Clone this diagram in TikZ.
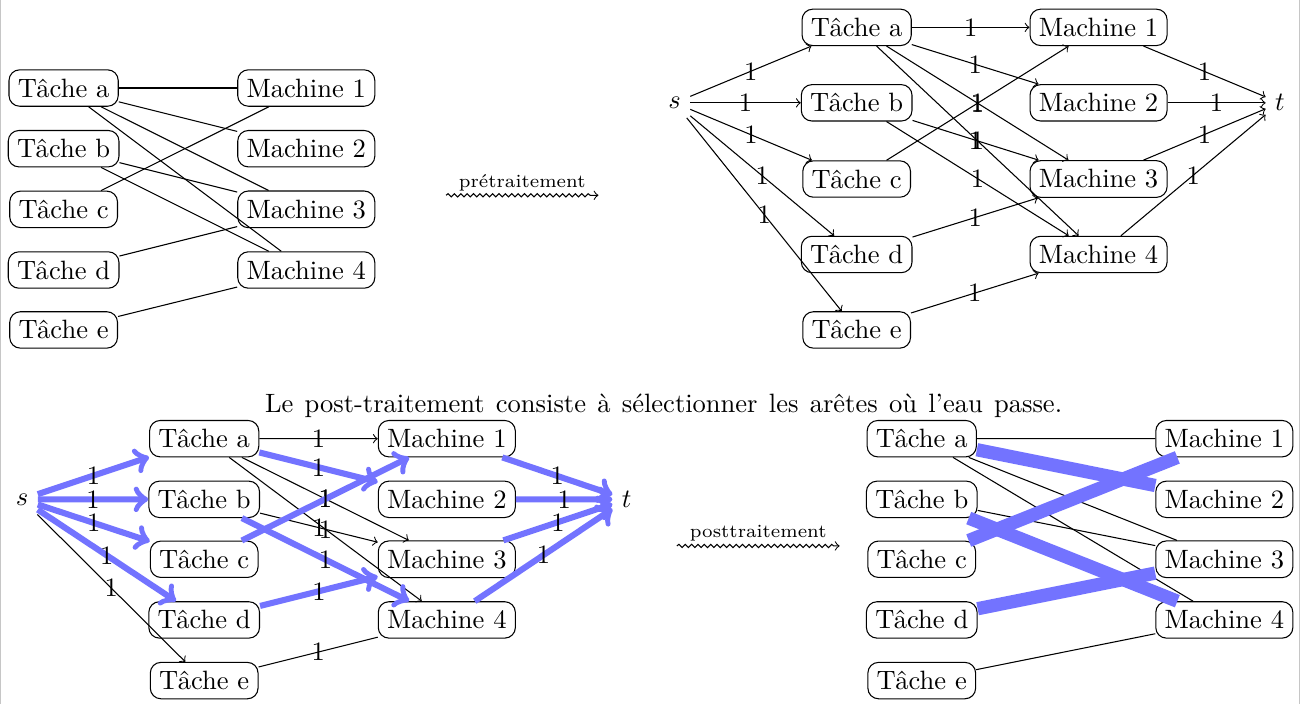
\documentclass[tikz,border=0pt]{standalone}
\usepackage{tikz}
\usetikzlibrary{decorations.pathmorphing}

\begin{document}
\begin{tikzpicture}[scale=0.98,
    box/.style={draw, rounded corners},
    flow/.style={->, draw=blue!55, line width=2.3pt},
    chosen/.style={draw=blue!55, line width=5pt},
    wave/.style={->, decorate, decoration={snake, amplitude=0.6pt, segment length=2.4pt, post length=2pt}}]
    \useasboundingbox (0,0) rectangle (17.6,-9.51);
    \draw[gray!45] (0.01,0) -- (0.01,-9.51);
    \draw[gray!45] (17.56,0) -- (17.56,-9.51);

    % bipartite graph
    \node[box] (Aa) at (0.86,-1.19) {Tâche a};
    \node[box] (Ab) at (0.86,-2.01) {Tâche b};
    \node[box] (Ac) at (0.86,-2.83) {Tâche c};
    \node[box] (Ad) at (0.86,-3.65) {Tâche d};
    \node[box] (Ae) at (0.86,-4.46) {Tâche e};
    \node[box] (A1) at (4.14,-1.19) {Machine 1};
    \node[box] (A2) at (4.14,-2.01) {Machine 2};
    \node[box] (A3) at (4.14,-2.83) {Machine 3};
    \node[box] (A4) at (4.14,-3.65) {Machine 4};

    \draw (Aa) -- (A1);
    \draw (Aa) -- (A2);
    \draw (Aa) -- (A3);
    \draw (Aa) -- (A4);
    \draw (Ab) -- (A3);
    \draw (Ab) -- (A4);
    \draw (Ac) -- (A1);
    \draw (Ad) -- (A3);
    \draw (Ae) -- (A4);

    \coordinate (pre1) at (6.03,-2.64);
    \coordinate (pre2) at (8.09,-2.64);
    \draw[wave] (pre1) -- node[above, font=\scriptsize, inner sep=1.5pt] {prétraitement} (pre2);

    % flow network
    \node (Bs) at (9.12,-1.39) {$s$};
    \node[box] (Ba) at (11.58,-0.37) {Tâche a};
    \node[box] (Bb) at (11.58,-1.39) {Tâche b};
    \node[box] (Bc) at (11.58,-2.42) {Tâche c};
    \node[box] (Bd) at (11.58,-3.44) {Tâche d};
    \node[box] (Be) at (11.58,-4.46) {Tâche e};
    \node[box] (B1) at (14.85,-0.37) {Machine 1};
    \node[box] (B2) at (14.85,-1.39) {Machine 2};
    \node[box] (B3) at (14.85,-2.42) {Machine 3};
    \node[box] (B4) at (14.85,-3.44) {Machine 4};
    \node (Bt) at (17.30,-1.39) {$t$};

    \draw[->] (Bs) -- node {1} (Ba);
    \draw[->] (Bs) -- node {1} (Bb);
    \draw[->] (Bs) -- node {1} (Bc);
    \draw[->] (Bs) -- node {1} (Bd);
    \draw[->] (Bs) -- node {1} (Be);
    \draw[->] (Ba) -- node {1} (B1);
    \draw[->] (Ba) -- node {1} (B2);
    \draw[->] (Ba) -- node {1} (B3);
    \draw[->] (Ba) -- node {1} (B4);
    \draw[->] (Bb) -- node {1} (B3);
    \draw[->] (Bb) -- node {1} (B4);
    \draw[->] (Bc) -- node {1} (B1);
    \draw[->] (Bd) -- node {1} (B3);
    \draw[->] (Be) -- node {1} (B4);
    \draw[->] (B1) -- node {1} (Bt);
    \draw[->] (B2) -- node {1} (Bt);
    \draw[->] (B3) -- node {1} (Bt);
    \draw[->] (B4) -- node {1} (Bt);

    \node (caption) at (8.97,-5.49) {\makebox[10.56cm][s]{Le post-traitement consiste à sélectionner les arêtes où l'eau passe.}};

    % maximum flow
    \node (Cs) at (0.30,-6.75) {$s$};
    \node[box] (Ca) at (2.76,-5.93) {Tâche a};
    \node[box] (Cb) at (2.76,-6.75) {Tâche b};
    \node[box] (Cc) at (2.76,-7.56) {Tâche c};
    \node[box] (Cd) at (2.76,-8.38) {Tâche d};
    \node[box] (Ce) at (2.76,-9.20) {Tâche e};
    \node[box] (C1) at (6.04,-5.93) {Machine 1};
    \node[box] (C2) at (6.04,-6.75) {Machine 2};
    \node[box] (C3) at (6.04,-7.56) {Machine 3};
    \node[box] (C4) at (6.04,-8.38) {Machine 4};
    \node (Ct) at (8.47,-6.75) {$t$};

    \draw[->] (Cs) -- node {1} (Ce);
    \draw[->] (Ca) -- node {1} (C1);
    \draw[->] (Ca) -- node {1} (C3);
    \draw[->] (Ca) -- node {1} (C4);
    \draw[->] (Cb) -- node {1} (C3);
    \draw (Ce) -- node {1} (C4);
    \draw[flow] (Cs) -- node {1} (Ca);
    \draw[flow] (Cs) -- node {1} (Cb);
    \draw[flow] (Cs) -- node {1} (Cc);
    \draw[flow] (Cs) -- node {1} (Cd);
    \draw[flow] (Ca) -- node {1} (C2);
    \draw[flow] (Cb) -- node {1} (C4);
    \draw[flow] (Cc) -- node {1} (C1);
    \draw[flow] (Cd) -- node {1} (C3);
    \draw[flow] (C1) -- node {1} (Ct);
    \draw[flow] (C2) -- node {1} (Ct);
    \draw[flow] (C3) -- node {1} (Ct);
    \draw[flow] (C4) -- node {1} (Ct);

    \coordinate (post1) at (9.15,-7.38);
    \coordinate (post2) at (11.35,-7.38);
    \draw[wave] (post1) -- node[above, font=\scriptsize, inner sep=1.5pt] {posttraitement} (post2);

    % matching
    \node[box] (Da) at (12.46,-5.93) {Tâche a};
    \node[box] (Db) at (12.46,-6.75) {Tâche b};
    \node[box] (Dc) at (12.46,-7.56) {Tâche c};
    \node[box] (Dd) at (12.46,-8.38) {Tâche d};
    \node[box] (De) at (12.46,-9.20) {Tâche e};
    \node[box] (D1) at (16.55,-5.93) {Machine 1};
    \node[box] (D2) at (16.55,-6.75) {Machine 2};
    \node[box] (D3) at (16.55,-7.56) {Machine 3};
    \node[box] (D4) at (16.55,-8.38) {Machine 4};

    \draw (Da) -- (D1);
    \draw (Da) -- (D3);
    \draw (Da) -- (D4);
    \draw (Db) -- (D3);
    \draw (De) -- (D4);
    \draw[chosen] (Da) -- (D2);
    \draw[chosen] (Db) -- (D4);
    \draw[chosen] (Dc) -- (D1);
    \draw[chosen] (Dd) -- (D3);
\end{tikzpicture}
\end{document}
